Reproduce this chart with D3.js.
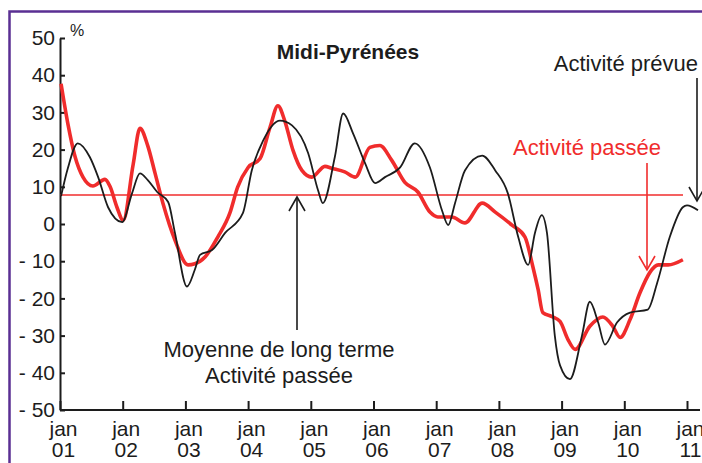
<!DOCTYPE html>
<html>
<head>
<meta charset="utf-8">
<script src="https://cdn.jsdelivr.net/npm/d3@7"></script>
<style>
    body { margin: 0; background: #ffffff; }
    svg { display: block; font-family: "Liberation Sans", Arial, sans-serif; }
</style>
</head>
<body>
<div id="chart"></div>
<script>
// months counted from jan 2001
const passeeMonths = [0.2, 1.5, 2.9, 4.4, 6.3, 8.6, 9.6, 10.9, 12.1, 14, 15.3, 16.8, 18.2, 19.7, 22, 24.5, 25.8, 27.8, 30.2, 32.5, 34, 36, 38.3, 40.2, 41.7, 43, 44.6, 46.3, 48.2, 50.7, 52, 54.5, 56.5, 59.3, 61.2, 63.5, 66, 68.5, 70.8, 72.3, 75, 77.5, 80.8, 83.3, 86.5, 89, 90.5, 91.5, 92.4, 94.2, 95.7, 97.2, 98.6, 101.4, 103.9, 105.8, 107.2, 109.1, 111, 112.9, 114.5, 116.4, 119.2];
const passeeValues = [37.7, 27, 18, 12.6, 10.2, 12, 10, 4.5, 1, 16, 25.7, 21, 13.6, 5.6, -4.3, -11, -10.7, -8.8, -3.5, 2.9, 9.9, 15.2, 17.6, 26, 31.8, 27.8, 19.8, 14.4, 12.6, 15.5, 15, 14, 12.6, 20.6, 21.1, 17.1, 11.2, 8.6, 3.2, 1.9, 1.9, 0.3, 5.6, 3.2, -0.3, -3.5, -11.5, -17.6, -23.8, -24.9, -26.2, -31, -33.7, -27.5, -25, -27.5, -30.5, -25.7, -18.5, -13, -11, -11, -9.6];

const prevueMonths = [0.2, 1.5, 3.4, 5.7, 7.3, 9.2, 11.9, 13.8, 15.3, 16.8, 18.6, 20.7, 22, 24.3, 25.8, 26.8, 29.1, 31.6, 35, 36.7, 38.9, 42.1, 44.4, 47.5, 49.4, 50.3, 52.6, 54.2, 56.1, 58.4, 60.3, 62.2, 65.1, 67.9, 70.8, 73.1, 74.3, 75.6, 77.5, 80.8, 83.3, 85.7, 87.7, 89.6, 90.9, 92.2, 93.2, 94.7, 95.7, 97.6, 99.9, 101.4, 103, 104.3, 106.6, 109.1, 112.5, 114.3, 116.7, 119.2, 120, 122.1];
const prevueValues = [7.5, 15, 21.7, 18, 12.6, 4.5, 0.5, 8.3, 13.6, 11.8, 8.6, 5.9, -2.4, -16.8, -12.3, -8.3, -7, -2.4, 2.9, 14.4, 22.5, 27.8, 26.5, 19, 9, 5.6, 18, 29.7, 24.3, 16.3, 11, 12.6, 15.2, 21.7, 15.2, 3.7, -0.3, 5.6, 14.4, 18.4, 14.4, 8.3, -3.5, -11, -2.4, 2.4, -2.4, -30, -38, -41.7, -30, -20.9, -26.5, -32.4, -26.5, -23.8, -23, -15.8, -3.5, 4.5, 5, 3.7];

const moyennePassee = 7.8;

const yTicks = [50, 40, 30, 20, 10, 0, -10, -20, -30, -40, -50];
const xTickMonths = [0, 12, 24, 36, 48, 60, 72, 84, 96, 108, 120];
const xTickYears = ["01", "02", "03", "04", "05", "06", "07", "08", "09", "10", "11"];

const RED = "#f02c2c";
const INK = "#1c1c1c";

const width = 702, height = 463;

const svg = d3.select("#chart")
    .append("svg")
    .attr("width", width)
    .attr("height", height)

// purple frame of the publication
svg.append("rect")
    .attr("x", 9.5)
    .attr("y", 11.5)
    .attr("width", 720)
    .attr("height", 480)
    .style("fill", "none")
    .style("stroke", "#5a2f93")
    .style("stroke-width", 2.5)

const x = d3.scaleLinear().domain([0, 120]).range([60, 687]);
const y = d3.scaleLinear().domain([-50, 50]).range([410, 38]);

//Y AXIS, ticks pointing inside
const yAxis = svg.append("g")
    .style("transform", `translate(${60}px, 0px)`)
    .call(d3.axisLeft(y)
        .tickValues(yTicks)
        .tickSize(-5)
        .tickSizeOuter(0)
        .tickPadding(5)
        .tickFormat(v => v < 0 ? `- ${Math.abs(v)}` : `${v}`))

yAxis.select(".domain").style("stroke", INK).style("stroke-width", 2)
yAxis.selectAll(".tick line").style("stroke", INK).style("stroke-width", 2)
yAxis.selectAll(".tick text")
    .style("font-size", "21px")
    .style("fill", INK)
    .attr("font-family", null)

//X AXIS, two line labels
const xAxis = svg.append("g")
    .style("transform", `translate(0px, ${410}px)`)
    .call(d3.axisBottom(x)
        .tickValues(xTickMonths)
        .tickSize(-9)
        .tickSizeOuter(0)
        .tickFormat(""))

xAxis.select(".domain").remove()
xAxis.append("line")
    .attr("x1", 60)
    .attr("x2", 700)
    .style("stroke", INK)
    .style("stroke-width", 2)
xAxis.selectAll(".tick line").style("stroke", INK).style("stroke-width", 2)

const xLabels = xAxis.selectAll(".tick").select("text")
    .attr("y", 0)
    .attr("dy", null)
    .attr("x", 3)
    .attr("font-family", null)
    .style("font-size", "21px")
    .style("fill", INK)

xLabels.append("tspan").attr("x", 3).attr("y", 26).text("jan")
xLabels.append("tspan").attr("x", 3).attr("y", 47).text((d, i) => xTickYears[i])

// long term average of past activity
svg.append("line")
    .attr("x1", x(0))
    .attr("x2", 683)
    .attr("y1", y(moyennePassee))
    .attr("y2", y(moyennePassee))
    .style("stroke", RED)
    .style("stroke-width", 1.3)

const line = d3.line()
    .x(d => x(d[0]))
    .y(d => y(d[1]))
    .curve(d3.curveMonotoneX)

const passee = passeeMonths.map((m, i) => [m, passeeValues[i]]);
const prevue = prevueMonths.map((m, i) => [m, prevueValues[i]]);

svg.append("path")
    .datum(passee)
    .attr("d", line)
    .style("fill", "none")
    .style("stroke", RED)
    .style("stroke-width", 3.6)
    .style("stroke-linejoin", "round")

svg.append("path")
    .datum(prevue)
    .attr("d", line)
    .style("fill", "none")
    .style("stroke", INK)
    .style("stroke-width", 1.8)
    .style("stroke-linejoin", "round")

//TEXTS
svg.append("text")
    .attr("x", 70)
    .attr("y", 36)
    .style("font-size", "16px")
    .style("fill", INK)
    .text("%")

svg.append("text")
    .attr("x", 348)
    .attr("y", 59)
    .attr("text-anchor", "middle")
    .style("font-size", "21px")
    .style("font-weight", "bold")
    .style("fill", INK)
    .text("Midi-Pyrénées")

svg.append("text")
    .attr("x", 698)
    .attr("y", 71)
    .attr("text-anchor", "end")
    .style("font-size", "22px")
    .style("fill", INK)
    .text("Activité prévue")

svg.append("text")
    .attr("x", 513)
    .attr("y", 155)
    .style("font-size", "22px")
    .style("fill", RED)
    .text("Activité passée")

const note = svg.append("text")
    .attr("text-anchor", "middle")
    .style("font-size", "22px")
    .style("fill", INK)
note.append("tspan").attr("x", 279).attr("y", 357).text("Moyenne de long terme")
note.append("tspan").attr("x", 279).attr("y", 383).text("Activité passée")

// arrows (open V heads)
function arrow(x0, yFrom, yTo, color) {
    const dir = yTo > yFrom ? 1 : -1;
    const g = svg.append("g")
        .style("stroke", color)
        .style("stroke-width", 1.6)
        .style("fill", "none")
    g.append("line")
        .attr("x1", x0).attr("x2", x0)
        .attr("y1", yFrom).attr("y2", yTo)
    g.append("path")
        .attr("d", `M${x0 - 8},${yTo - dir * 14} L${x0},${yTo} L${x0 + 8},${yTo - dir * 14}`)
}

arrow(697, 78, 201, INK)
arrow(647, 163, 270, RED)
arrow(297, 330, y(moyennePassee) + 2, INK)
</script>
</body>
</html>
